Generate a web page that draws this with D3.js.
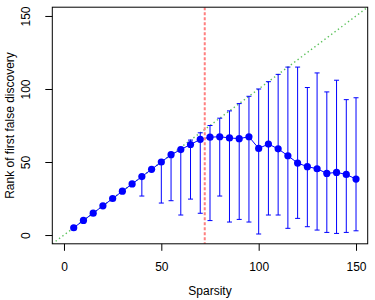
<!DOCTYPE html>
<html>
<head>
<meta charset="utf-8">
<script src="https://cdn.jsdelivr.net/npm/d3@7"></script>
<style>
  body { margin: 0; background: #fff; }
  text { font-family: "Liberation Sans", Arial, sans-serif; font-size: 12px; fill: #000; }
</style>
</head>
<body>
<div id="chart"></div>
<script>
  'use strict'
  // sparsity levels and rank of first false discovery (mean, lower, upper)
  let sparsity = [5, 10, 15, 20, 25, 30, 35, 40, 45, 50, 55, 60, 65, 70, 75,
    80, 85, 90, 95, 100, 105, 110, 115, 120, 125, 130, 135, 140, 145, 150]
  let meanRank = [5, 10, 15, 20, 25, 30, 35, 40, 45, 50, 55, 58.5, 62, 65.5, 67,
    67.3, 66.5, 66, 67.3, 59.3, 62.3, 59, 54.3, 49.3, 46.8, 45.4, 42.2, 42.9, 41.5, 38.3]
  let lowerRank = [5, 10, 15, 20, 25, 30, 35, 26.7, 45, 21.9, 23.5, 13.7, 24.6, 14.9, 9.9,
    26.7, 8.9, 10.7, 8.9, 0.7, 13.7, 13.7, 4.6, 11.4, 5.7, 3.4, 1.8, 1.1, 1.8, 2.9]
  let upperRank = [5, 10, 15, 20, 25, 30, 35, 40, 45, 50, 55, 60, 65, 70, 75,
    80, 85, 90, 95, 100, 105, 110, 115, 115, 101, 111, 98, 106, 92.7, 94]
  let xTicks = [0, 50, 100, 150]
  let yTicks = [0, 50, 100, 150]
  let cutoff = 72.3

  let w = 375, h = 300
  let box = {left: 52.3, right: 367.7, top: 7.2, bottom: 243.8}

  let svg = d3.select('#chart').append('svg')
    .attr('width', w)
    .attr('height', h)

  let x = d3.scaleLinear().domain([-6, 156]).range([box.left, box.right])
  let y = d3.scaleLinear().domain([-6, 156]).range([box.bottom, box.top])

  svg.append('clipPath').attr('id', 'clip')
    .append('rect')
    .attr('x', box.left).attr('y', box.top)
    .attr('width', box.right - box.left).attr('height', box.bottom - box.top)

  let plot = svg.append('g').attr('clip-path', 'url(#clip)')

  // y = x reference
  plot.append('line')
    .attr('x1', x(-6)).attr('y1', y(-6))
    .attr('x2', x(156)).attr('y2', y(156))
    .attr('stroke', '#5cc25c')
    .attr('stroke-width', 1.4)
    .attr('stroke-dasharray', '1.4,2.8')

  let data = sparsity.map(function(s, i){
    return {s: s, m: meanRank[i], lo: lowerRank[i], hi: upperRank[i]}
  })

  // error bars
  let bars = plot.append('g').attr('stroke', '#0000ff').attr('stroke-width', 1)
  data.forEach(function(d){
    let cx = x(d.s)
    if (d.m - d.lo > 0.5) {
      bars.append('line').attr('x1', cx).attr('x2', cx).attr('y1', y(d.m)).attr('y2', y(d.lo))
      bars.append('line').attr('x1', cx - 2.5).attr('x2', cx + 2.5).attr('y1', y(d.lo)).attr('y2', y(d.lo))
    }
    if (d.hi - d.m > 0.5) {
      bars.append('line').attr('x1', cx).attr('x2', cx).attr('y1', y(d.m)).attr('y2', y(d.hi))
      bars.append('line').attr('x1', cx - 2.5).attr('x2', cx + 2.5).attr('y1', y(d.hi)).attr('y2', y(d.hi))
    }
  })

  // mean line and points
  plot.append('path')
    .datum(data)
    .attr('fill', 'none')
    .attr('stroke', '#0000ff')
    .attr('stroke-width', 1)
    .attr('d', d3.line().x(function(d){ return x(d.s) }).y(function(d){ return y(d.m) }))

  plot.selectAll('.dot')
    .data(data)
    .enter().append('circle')
    .attr('class', 'dot')
    .attr('cx', function(d){ return x(d.s) })
    .attr('cy', function(d){ return y(d.m) })
    .attr('r', 3.6)
    .attr('fill', '#0000ff')

  // cutoff
  plot.append('line')
    .attr('x1', x(cutoff)).attr('x2', x(cutoff))
    .attr('y1', box.top).attr('y2', box.bottom)
    .attr('stroke', '#ff7f7f')
    .attr('stroke-width', 2)
    .attr('stroke-dasharray', '3,2')

  // frame
  svg.append('rect')
    .attr('x', box.left).attr('y', box.top)
    .attr('width', box.right - box.left).attr('height', box.bottom - box.top)
    .attr('fill', 'none').attr('stroke', '#000').attr('stroke-width', 1)

  // axes
  let xAxis = svg.append('g').attr('transform', 'translate(0,' + box.bottom + ')')
    .call(d3.axisBottom(x).tickValues(xTicks).tickSize(7).tickPadding(12))
  let yAxis = svg.append('g').attr('transform', 'translate(' + box.left + ',0)')
    .call(d3.axisLeft(y).tickValues(yTicks).tickSize(7))
  xAxis.select('.domain').remove()
  yAxis.select('.domain').remove()
  svg.selectAll('.tick text').style('font-size', '12px').style('font-family', '"Liberation Sans", Arial, sans-serif')
  yAxis.selectAll('.tick text')
    .attr('x', null).attr('dy', null)
    .attr('text-anchor', 'middle')
    .attr('transform', 'translate(-22,0) rotate(-90)')
    .attr('y', 0)

  svg.append('text')
    .attr('x', (box.left + box.right) / 2)
    .attr('y', 295)
    .attr('text-anchor', 'middle')
    .text('Sparsity')

  svg.append('text')
    .attr('transform', 'translate(14,' + (box.top + box.bottom) / 2 + ') rotate(-90)')
    .attr('text-anchor', 'middle')
    .text('Rank of first false discovery')
</script>
</body>
</html>
